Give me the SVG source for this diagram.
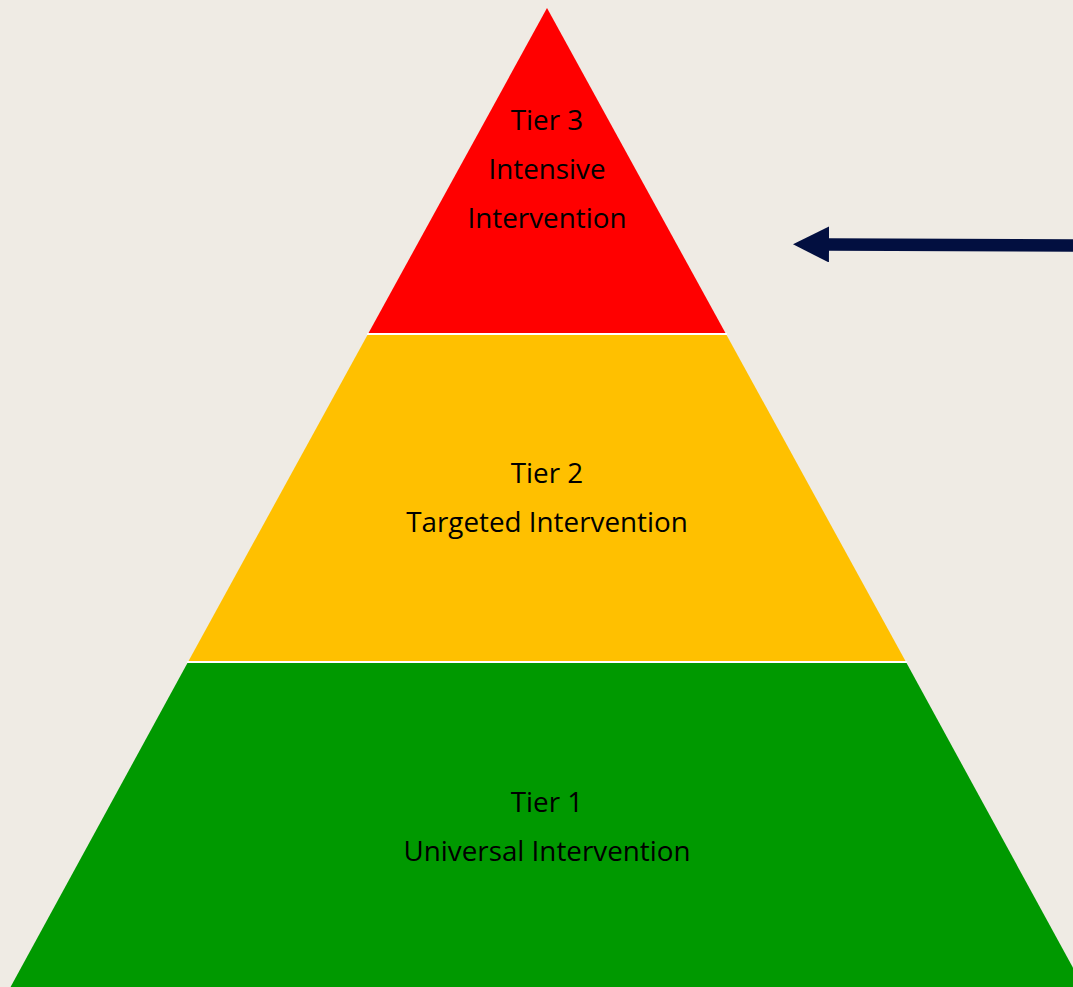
<svg xmlns="http://www.w3.org/2000/svg" width="1073" height="987" viewBox="0 0 1073 987">
  <defs>
    <style>
      .sep { stroke: #ffffff; stroke-width: 1.8; }
      .label { font-family: "Open Sans", "Noto Sans", "Liberation Sans", sans-serif; font-size: 27.8px; fill: #000000; text-anchor: middle; }
      .conn { stroke: #020f40; stroke-width: 12.5; fill: none; }
    </style>
    <marker id="head" viewBox="0 0 36 36" refX="0" refY="18" markerWidth="36" markerHeight="36" markerUnits="userSpaceOnUse" orient="auto-start-reverse">
      <path d="M0,0 L36,18 L0,36 Z" fill="#020f40"/>
    </marker>
  </defs>

  <rect width="1073" height="987" fill="#efebe4"/>

  <!-- tier 1: base band -->
  <g id="tier1">
    <polygon points="188,662 906,662 1084,988 10,988" fill="#009900"/>
    <text class="label" x="547" y="812">Tier 1</text>
    <text class="label" x="547" y="861">Universal Intervention</text>
  </g>

  <!-- tier 2: middle band -->
  <g id="tier2">
    <polygon points="368,334 726,334 906,662 188,662" fill="#ffc000"/>
    <line class="sep" x1="187" y1="662" x2="907" y2="662"/>
    <text class="label" x="547" y="483">Tier 2</text>
    <text class="label" x="547" y="532">Targeted Intervention</text>
  </g>

  <!-- tier 3: apex -->
  <g id="tier3">
    <polygon points="547,8 726,334 368,334" fill="#ff0000"/>
    <line class="sep" x1="367" y1="334" x2="727" y2="334"/>
    <text class="label" x="547" y="130">Tier 3</text>
    <text class="label" x="547" y="179">Intensive</text>
    <text class="label" x="547" y="228">Intervention</text>
  </g>

  <!-- connectors -->
  <g id="connectors">
    <path class="conn" d="M1080,245.5 L829,244.5" marker-end="url(#head)"/>
  </g>
</svg>
